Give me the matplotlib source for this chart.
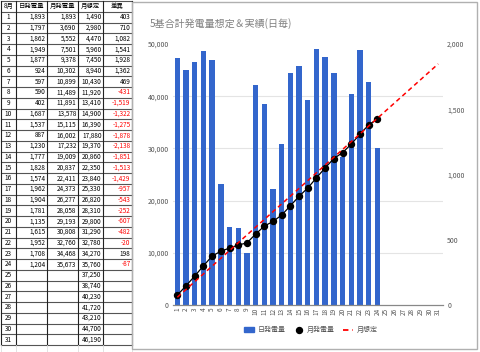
import matplotlib.pyplot as plt
import numpy as np
from matplotlib.patches import Rectangle
from matplotlib.lines import Line2D

plt.rcParams['font.family'] = ['Noto Sans CJK JP', 'DejaVu Sans']

# data read from the sheet
days = list(range(1, 32))
dailyGen = [1893, 1797, 1862, 1949, 1877, 924, 597, 590, 402, 1687, 1537, 887,
            1230, 1777, 1828, 1574, 1962, 1904, 1781, 1135, 1615, 1952, 1708, 1204]
monthGen = [1893, 3690, 5552, 7501, 9378, 10302, 10899, 11489, 11891, 13578, 15115, 16002,
            17232, 19009, 20837, 22411, 24373, 26277, 28058, 29193, 30808, 32760, 34468, 35673]
monthPlan = [1490, 2980, 4470, 5960, 7450, 8940, 10430, 11920, 13410, 14900, 16390, 17880,
             19370, 20860, 22350, 23840, 25330, 26820, 28310, 29800, 31290, 32780, 34270, 35760,
             37250, 38740, 40230, 41720, 43210, 44700, 46190]
diff = [403, 710, 1082, 1541, 1928, 1362, 469, -431, -1519, -1322, -1275, -1878,
        -2138, -1851, -1513, -1429, -957, -543, -252, -607, -482, -20, 198, -87]
headers = ['8月', '日発電量', '月発電量', '月想定', '差異']

W = 480
H = 352
fig = plt.figure(figsize=(W/100, H/100), dpi=100)

## table on the left
axT = fig.add_axes([0, 0, 134/W, 1])
axT.set_xlim(0, 134)
axT.set_ylim(H, 0)
axT.axis('off')
colEdges = [0.5, 16, 47, 78, 103, 132]
rowTop = 1.0
rowH = 10.75
nRows = 32
tableBottom = rowTop + nRows*rowH
for i in range(nRows + 1):
  axT.plot([colEdges[0], colEdges[-1]], [rowTop + i*rowH]*2, color='#555555', lw=0.8)
for x in colEdges:
  axT.plot([x, x], [rowTop, tableBottom], color='#222222', lw=0.8)
  axT.plot([x, x], [tableBottom, H], color='#dddddd', lw=0.6)

fs = 4.6
yc = rowTop + 0.5*rowH
for c in range(len(headers)):
  axT.text((colEdges[c] + colEdges[c+1])/2, yc, headers[c], fontsize=fs,
           ha='center', va='center', color='black')
for d in days:
  yc = rowTop + (d + 0.5)*rowH
  axT.text((colEdges[0] + colEdges[1])/2, yc, str(d), fontsize=fs, ha='center', va='center')
  if d <= len(dailyGen):
    axT.text(colEdges[2] - 1.5, yc, f'{dailyGen[d-1]:,}', fontsize=fs, ha='right', va='center')
    axT.text(colEdges[3] - 1.5, yc, f'{monthGen[d-1]:,}', fontsize=fs, ha='right', va='center')
    dv = diff[d-1]
    axT.text(colEdges[5] - 1.5, yc, f'{dv:,}', fontsize=fs, ha='right', va='center',
             color='red' if dv < 0 else 'black')
  axT.text(colEdges[4] - 1.5, yc, f'{monthPlan[d-1]:,}', fontsize=fs, ha='right', va='center')

## chart panel
fig.patches.append(Rectangle((132/W, 1 - 349/H), (477-132)/W, (349-2)/H,
                             transform=fig.transFigure, fill=False,
                             edgecolor='#b0b0b0', lw=1.0))
fig.text(150/W, 1 - 24/H, '5基合計発電量想定＆実績(日毎)', fontsize=7.2,
         color='#808080', va='center', ha='left')

ax = fig.add_axes([173/W, 1 - 305/H, (443-173)/W, (305-44)/H])
ax.bar(days[:len(dailyGen)], dailyGen, width=0.62, color='#3366cc', zorder=2)
ax.set_ylim(0, 2000)
ax.set_xlim(0.5, 31.55)
ax.set_xticks(days)
ax.set_xticklabels([str(d) for d in days], rotation=90)
ax.tick_params(axis='x', length=0, labelsize=4.6, colors='#555555', pad=2)
for s in ['top', 'left', 'right']:
  ax.spines[s].set_visible(False)
ax.spines['bottom'].set_color('#888888')
ax.spines['bottom'].set_linewidth(0.9)

ax2 = ax.twinx()
ax2.plot(days[:len(monthGen)], monthGen, color='black', marker='o', ms=4.3, lw=0.9, zorder=3)
ax2.plot(days, monthPlan, color='red', ls='--', dashes=(3, 2.2), lw=1.1, zorder=4)
ax2.set_ylim(0, 50000)
ax2.yaxis.tick_left()
ax2.set_yticks(range(0, 50001, 10000))
ax2.set_yticklabels(['0', '10,000', '20,000', '30,000', '40,000', '50,000'])
ax2.tick_params(axis='y', length=0, labelsize=5, colors='#555555', pad=3)
for s in ax2.spines.values():
  s.set_visible(False)

# bar axis labels go on the right (after twinx, which resets them)
ax.yaxis.tick_right()
ax.set_yticks([0, 500, 1000, 1500, 2000])
ax.set_yticklabels(['0', '500', '1,000', '1,500', '2,000'])
ax.set_yticks(np.arange(0, 2001, 400), minor=True)
ax.grid(axis='y', which='minor', color='#e4e4e4', lw=0.8)
ax.set_axisbelow(True)
ax.tick_params(axis='y', which='both', length=0, labelsize=5, colors='#555555', pad=3,
               left=False, labelleft=False, right=False, labelright=True)

handles = [Rectangle((0, 0), 1, 1, color='#3366cc'),
           Line2D([], [], color='black', marker='o', ms=4.3, lw=0),
           Line2D([], [], color='red', ls='--', dashes=(3, 2.2), lw=1.3)]
fig.legend(handles, ['日発電量', '月発電量', '月想定'], loc='center',
           bbox_to_anchor=(311/W, 1 - 330/H), ncol=3, frameon=False, fontsize=5,
           handlelength=1.4, handletextpad=0.5, columnspacing=1.2,
           labelcolor='#555555')

plt.savefig('out.png', dpi=100)
